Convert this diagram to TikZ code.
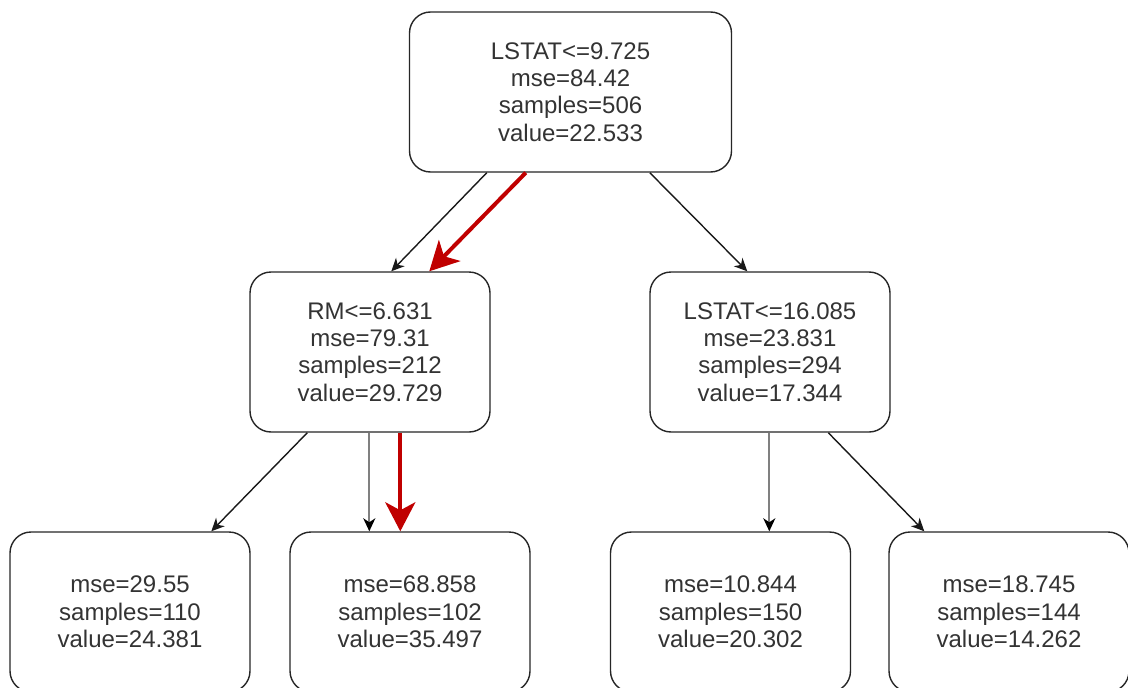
\documentclass[tikz,border=0pt]{standalone}
\usepackage{fontspec}
\setmainfont{Liberation Sans}
\usetikzlibrary{arrows.meta}
\begin{document}
\begin{tikzpicture}[x=1pt,y=-1pt,
  treebox/.style={draw=black!85,line width=1.4pt,rounded corners=21pt,fill=white,
    minimum width=240pt,minimum height=160pt,inner sep=0pt,align=center,
    text=black!80,font=\fontsize{24}{27.3}\selectfont},
  edge/.style={line width=1.4pt,draw=black!90,-{Stealth[length=13pt,width=12pt,inset=4pt]}},
  grayedge/.style={line width=2.2pt,draw=black!50,-{Stealth[length=13pt,width=12pt,inset=4pt,black]}},
  rededge/.style={line width=4pt,draw={rgb,255:red,192;green,0;blue,0},-{Stealth[length=29pt,width=30pt,inset=8pt]}}]
\useasboundingbox (0,0) rectangle (1128,688);
\clip (0,0) rectangle (1128,688);
\node[treebox,minimum width=322pt] (root) at (570.5,92) {LSTAT<=9.725\\mse=84.42\\samples=506\\value=22.533};
\node[treebox] (m1) at (370,352) {RM<=6.631\\mse=79.31\\samples=212\\value=29.729};
\node[treebox] (m2) at (770,352) {LSTAT<=16.085\\mse=23.831\\samples=294\\value=17.344};
\node[treebox] (b1) at (130,612) {mse=29.55\\samples=110\\value=24.381};
\node[treebox] (b2) at (410,612) {mse=68.858\\samples=102\\value=35.497};
\node[treebox] (b3) at (730.5,612) {mse=10.844\\samples=150\\value=20.302};
\node[treebox] (b4) at (1009,612) {mse=18.745\\samples=144\\value=14.262};
% root -> m1 (black) and red highlight
\draw[edge] ([xshift=78pt]root.south west) -- ([xshift=142pt]m1.north west);
\draw[rededge] ([xshift=117pt]root.south west) -- ([xshift=180pt]m1.north west);
\draw[edge] ([xshift=241pt]root.south west) -- ([xshift=98pt]m2.north west);
% m1 -> b1, b2
\draw[edge] ([xshift=58pt]m1.south west) -- ([xshift=202pt]b1.north west);
\draw[grayedge] ([xshift=120pt]m1.south west) -- ([xshift=80pt]b2.north west);
\draw[rededge] ([xshift=151pt]m1.south west) -- ([xshift=111pt]b2.north west);
% m2 -> b3, b4
\draw[grayedge] ([xshift=120pt]m2.south west) -- ([xshift=159.5pt]b3.north west);
\draw[edge] ([xshift=179pt]m2.south west) -- ([xshift=36pt]b4.north west);
\end{tikzpicture}
\end{document}
